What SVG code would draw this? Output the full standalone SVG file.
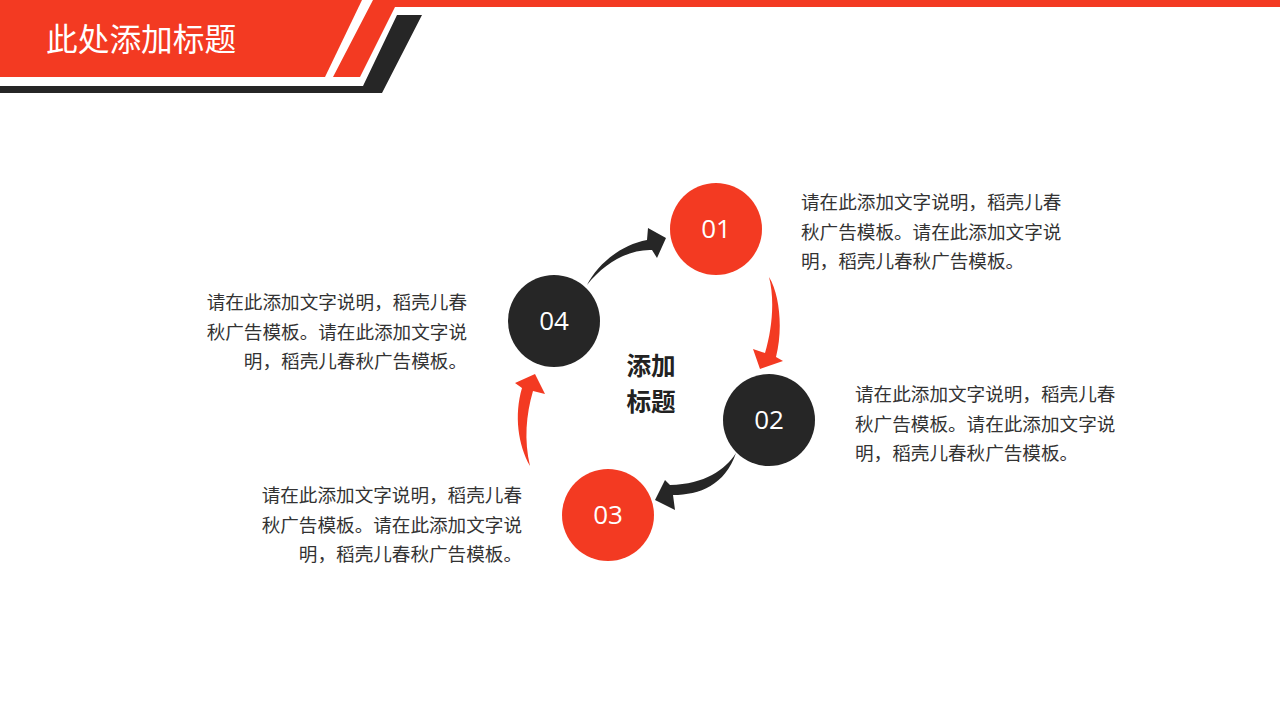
<svg xmlns="http://www.w3.org/2000/svg" width="1280" height="720" viewBox="0 0 1280 720">
<style>
.red{fill:#F33A22}
.blk{fill:#262626}
.num{font-family:"Open Sans","Noto Sans",sans-serif;font-size:26px;fill:#ffffff;text-anchor:middle}
.desc{font-family:"Noto Sans CJK SC",sans-serif;font-size:18.6px;fill:#333333}
.end{text-anchor:end}
.ctr{font-family:"Noto Sans CJK SC",sans-serif;font-size:24.6px;font-weight:bold;fill:#222222;text-anchor:middle}
.ttl{font-family:"Noto Sans CJK SC",sans-serif;font-size:31.7px;fill:#ffffff}
</style>
<rect width="1280" height="720" fill="#ffffff"/>
<g id="header">
<polygon class="red" points="0,0 362,0 325,77 0,77"/>
<polygon class="red" points="373,0 1280,0 1280,7 395,7 360,77 333,77"/>
<polygon class="blk" points="397,15 422,15 382,93 0,93 0,86 363,86"/>
<text class="ttl" x="46" y="51">此处添加标题</text>
</g>
<g id="connectors">
<path class="blk" d="M587,285 C597,265 620,245 647,240 L648,228 L666,238 L657,258 L652,250 C630,249 605,262 587,285 Z"/>
<path class="red" d="M769,277 C780,295 783,330 776,357 L783,361 L760,369 L753,349 L765,353 C772,330 775,300 769,277 Z"/>
<path class="blk" d="M736,453 C725,470 705,484 670,485 L665,480 L655,500 L675,510 L673,495 C700,495 725,485 736,453 Z"/>
<path class="red" d="M530,466 C518,445 514,415 522,388 L515,383 L535,374 L545,394 L533,391 C526,415 524,440 530,466 Z"/>
</g>
<g id="node01">
<circle class="red" cx="716" cy="229" r="46"/>
<text class="num" x="716" y="238">01</text>
</g>
<g id="node02">
<circle class="blk" cx="769" cy="420" r="46"/>
<text class="num" x="769" y="429">02</text>
</g>
<g id="node03">
<circle class="red" cx="608" cy="515" r="46"/>
<text class="num" x="608" y="524">03</text>
</g>
<g id="node04">
<circle class="blk" cx="554" cy="321" r="46"/>
<text class="num" x="554" y="330">04</text>
</g>
<g id="center">
<text class="ctr" x="651" y="375">添加</text>
<text class="ctr" x="651" y="410.8">标题</text>
</g>
<g id="text01">
<text class="desc" x="801" y="209">请在此添加文字说明，稻壳儿春</text>
<text class="desc" x="801" y="238.5">秋广告模板。请在此添加文字说</text>
<text class="desc" x="801" y="268">明，稻壳儿春秋广告模板。</text>
</g>
<g id="text02">
<text class="desc" x="855" y="401">请在此添加文字说明，稻壳儿春</text>
<text class="desc" x="855" y="430.5">秋广告模板。请在此添加文字说</text>
<text class="desc" x="855" y="460">明，稻壳儿春秋广告模板。</text>
</g>
<g id="text03">
<text class="desc end" x="522" y="502">请在此添加文字说明，稻壳儿春</text>
<text class="desc end" x="522" y="531.5">秋广告模板。请在此添加文字说</text>
<text class="desc end" x="522" y="561">明，稻壳儿春秋广告模板。</text>
</g>
<g id="text04">
<text class="desc end" x="467" y="309">请在此添加文字说明，稻壳儿春</text>
<text class="desc end" x="467" y="338.5">秋广告模板。请在此添加文字说</text>
<text class="desc end" x="467" y="368">明，稻壳儿春秋广告模板。</text>
</g>
</svg>
